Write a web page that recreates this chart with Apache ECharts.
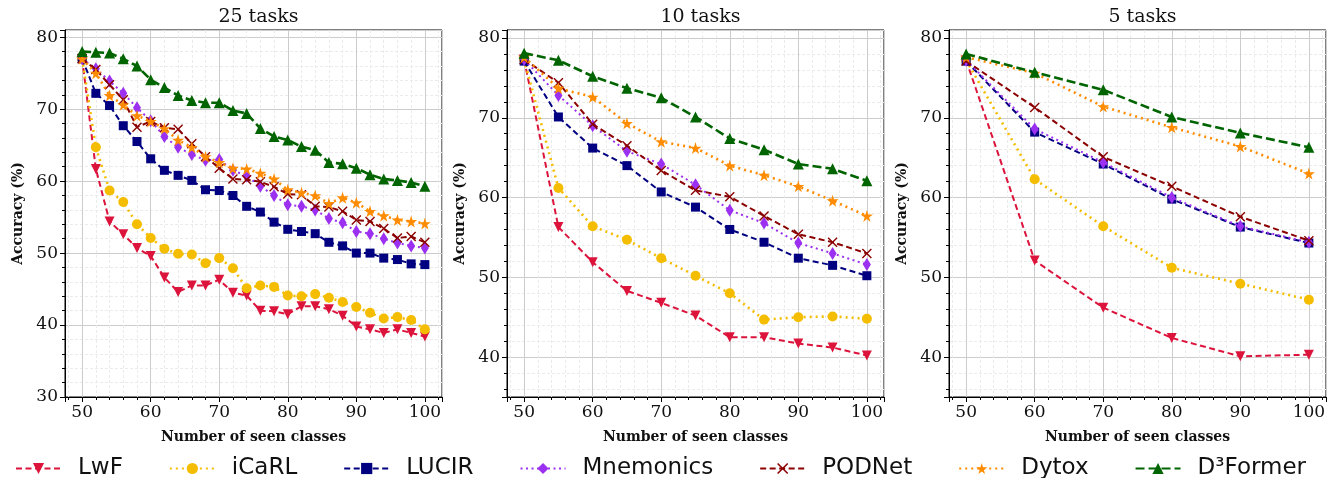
<!DOCTYPE html>
<html><head><meta charset="utf-8">
<script src="https://cdn.jsdelivr.net/npm/echarts@6/dist/echarts.min.js"></script>
<style>html,body{margin:0;padding:0;background:#fff}#c{width:1338px;height:478px}</style>
</head><body><div id="c"></div>
<script>
const panelTitles = ['25 tasks', '10 tasks', '5 tasks'];
const methods = ['LwF', 'iCaRL', 'LUCIR', 'Mnemonics', 'PODNet', 'Dytox', 'D³Former'];

const xs25 = [50,52,54,56,58,60,62,64,66,68,70,72,74,76,78,80,82,84,86,88,90,92,94,96,98,100];
const xs10 = [50,55,60,65,70,75,80,85,90,95,100];
const xs5 = [50,60,70,80,90,100];

const lwf25 = [77.0,61.7,54.4,52.6,50.7,49.6,46.6,44.6,45.5,45.5,46.3,44.5,44.1,42.0,41.9,41.5,42.6,42.6,42.2,41.3,39.8,39.4,38.9,39.4,38.9,38.4];
const icarl25 = [77.0,64.7,58.7,57.1,54.0,52.1,50.6,49.9,49.8,48.6,49.3,47.9,45.1,45.5,45.3,44.1,44.0,44.3,43.8,43.2,42.5,41.7,40.9,41.1,40.7,39.4];
const lucir25 = [77.0,72.2,70.5,67.7,65.5,63.1,61.5,60.8,60.1,58.8,58.7,58.0,56.5,55.7,54.3,53.3,53.0,52.7,51.5,51.0,50.0,50.0,49.3,49.1,48.5,48.4];
const mnem25 = [77.0,75.6,73.9,72.2,70.2,68.4,66.2,64.7,63.7,62.9,63.0,61.5,60.7,59.3,58.0,56.7,56.5,56.0,54.8,54.2,53.0,52.7,52.0,51.4,51.0,50.7];
const pod25 = [77.0,75.5,73.4,71.3,67.5,68.3,67.4,67.2,65.2,63.4,61.8,60.3,60.2,59.9,59.2,58.2,58.1,56.5,56.4,55.8,54.6,54.4,53.4,52.1,52.3,51.5];
const dytox25 = [77.0,75.0,71.9,70.6,69.1,68.3,67.3,65.7,64.7,63.4,62.6,61.8,61.7,61.1,60.3,58.8,58.4,58.0,56.9,57.7,57.0,55.8,55.2,54.6,54.4,54.1];
const d3f25 = [78.0,77.9,77.8,77.0,76.0,74.1,73.0,71.9,71.2,70.9,70.9,69.8,69.4,67.3,66.2,65.7,64.8,64.3,62.6,62.4,61.8,60.9,60.3,60.1,59.8,59.3];

const lwf10 = [77.3,56.3,51.9,48.3,46.8,45.2,42.5,42.5,41.7,41.2,40.2];
const icarl10 = [77.3,61.2,56.4,54.7,52.4,50.2,48.0,44.7,45.0,45.1,44.8];
const lucir10 = [77.1,70.1,66.2,64.0,60.7,58.8,56.0,54.4,52.4,51.5,50.2];
const mnem10 = [77.3,72.8,69.0,65.8,64.2,61.6,58.4,56.8,54.3,53.0,51.6];
const pod10 = [77.3,74.4,69.2,66.5,63.4,60.9,60.1,57.7,55.4,54.4,53.0];
const dytox10 = [77.6,73.7,72.6,69.3,67.0,66.2,64.0,62.8,61.4,59.6,57.7];
const d3f10 = [78.1,77.2,75.2,73.7,72.5,70.1,67.4,66.0,64.2,63.6,62.1];

const lwf5 = [77.2,52.1,46.2,42.4,40.1,40.3];
const icarl5 = [77.2,62.3,56.4,51.2,49.2,47.2];
const lucir5 = [77.1,68.2,64.2,59.8,56.3,54.3];
const mnem5 = [77.2,68.6,64.4,60.0,56.4,54.4];
const pod5 = [77.1,71.3,65.1,61.4,57.6,54.6];
const dytox5 = [77.6,75.6,71.4,68.8,66.4,63.0];
const d3f5 = [78.0,75.7,73.5,70.1,68.1,66.3];

const yMins = [30, 35, 35];
const yMax = 81;

const panelXs = [xs25, xs10, xs5];
const panelData = [
  [lwf25, icarl25, lucir25, mnem25, pod25, dytox25, d3f25],
  [lwf10, icarl10, lucir10, mnem10, pod10, dytox10, d3f10],
  [lwf5, icarl5, lucir5, mnem5, pod5, dytox5, d3f5]
];

const STAR = 'path://M50,0 L61,35 L98,35 L68,57 L79,91 L50,70 L21,91 L32,57 L2,35 L39,35 Z';
const XMARK = 'path://M0,2 L2,0 L10,8 L18,0 L20,2 L12,10 L20,18 L18,20 L10,12 L2,20 L0,18 L8,10 Z';
const DIAM = 'path://M5,0 L10,10 L5,20 L0,10 Z';
const styles = [
  {color:'#dc143c', type:[6,3.5], width:2, symbol:'triangle', rot:180, size:10},
  {color:'#f5bd00', type:[2,4], width:2.6, symbol:'circle', rot:0, size:10},
  {color:'#000080', type:[6,3.5], width:2, symbol:'rect', rot:0, size:9},
  {color:'#9b30f0', type:[2,3.5], width:2, symbol:DIAM, rot:0, size:[8,13]},
  {color:'#8b0000', type:[6,3.5], width:2, symbol:XMARK, rot:0, size:10},
  {color:'#ff8c00', type:[2,4], width:2.6, symbol:STAR, rot:0, size:12},
  {color:'#006400', type:[9,4], width:2.6, symbol:'triangle', rot:0, size:11}
];

const grids = [65, 507, 949].map(l => ({left:l, top:30, width:377, height:367, show:true, borderColor:'#000', borderWidth:1, backgroundColor:'transparent'}));
const SERIF = 'DejaVu Serif';

const xAxes = grids.map((g,i) => ({
  gridIndex:i, type:'value', min:47.5, max:102.5, splitNumber:5,
  axisLine:{show:true, lineStyle:{color:'#000', width:1}},
  axisTick:{show:true, inside:false, length:5, lineStyle:{color:'#000'}},
  minorTick:{show:true, splitNumber:5, length:3, lineStyle:{color:'#000'}},
  splitLine:{show:true, lineStyle:{color:'#cccccc', width:1}},
  minorSplitLine:{show:true, lineStyle:{color:'#ebebeb', type:[3,2], width:1}},
  axisLabel:{fontFamily:SERIF, fontSize:17, color:'#111', margin:7, showMinLabel:false, showMaxLabel:false},
  name:'Number of seen classes', nameLocation:'middle', nameGap:33,
  nameTextStyle:{fontFamily:SERIF, fontWeight:'bold', fontSize:14, color:'#111'}
}));
const yAxes = grids.map((g,i) => ({
  gridIndex:i, type:'value', min:yMins[i], max:yMax, splitNumber:5,
  axisLine:{show:true, lineStyle:{color:'#000', width:1}},
  axisTick:{show:true, inside:false, length:5, lineStyle:{color:'#000'}},
  minorTick:{show:true, splitNumber:5, length:3, lineStyle:{color:'#000'}},
  splitLine:{show:true, lineStyle:{color:'#cccccc', width:1}},
  minorSplitLine:{show:true, lineStyle:{color:'#ebebeb', type:[3,2], width:1}},
  axisLabel:{fontFamily:SERIF, fontSize:17, color:'#111', margin:7, showMinLabel:i===0, showMaxLabel:false},
  name:'Accuracy (%)', nameLocation:'middle', nameGap:40,
  nameTextStyle:{fontFamily:SERIF, fontWeight:'bold', fontSize:14, color:'#111'}
}));

const series = [];
for (let p = 0; p < 3; p++) {
  for (let m = 0; m < methods.length; m++) {
    const s = styles[m];
    series.push({
      type:'line', name:methods[m], xAxisIndex:p, yAxisIndex:p,
      data: panelXs[p].map((x,k) => [x, panelData[p][m][k]]),
      symbol:s.symbol, symbolSize:s.size, symbolRotate:s.rot, showAllSymbol:true,
      lineStyle:{color:s.color, width:s.width, type:s.type},
      itemStyle:{color:s.color, borderWidth:0},
      emphasis:{disabled:true}, animation:false, z:2+m
    });
  }
}

const titles = panelTitles.map((t,i) => ({
  text:t, left:[253.5, 695.5, 1137.5][i], top:3, textAlign:'center',
  textStyle:{fontFamily:SERIF, fontWeight:'normal', fontSize:19, color:'#111'}
}));

const chart = echarts.init(document.getElementById('c'), null, {renderer:'canvas'});
chart.setOption({
  animation:false,
  title:titles,
  grid:grids, xAxis:xAxes, yAxis:yAxes,
  legend:{
    data:methods, left:10, top:452, itemWidth:45, itemHeight:14, itemGap:46,
    textStyle:{fontFamily:'DejaVu Sans', fontSize:23, color:'#111', padding:[0,0,0,12]},
    selectedMode:false
  },
  series:series
});
</script></body></html>
